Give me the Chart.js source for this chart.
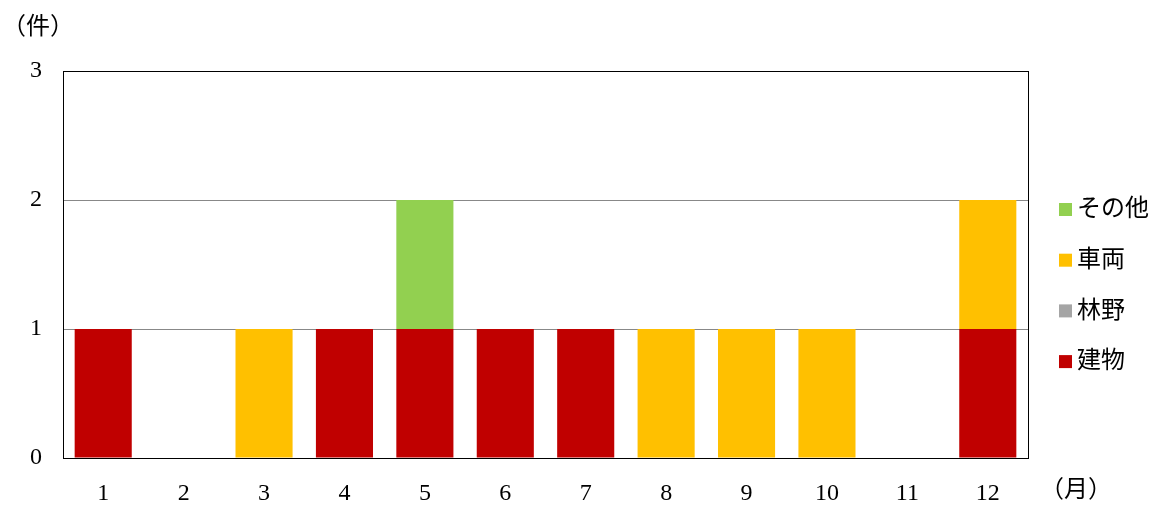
<!DOCTYPE html>
<html>
<head>
<meta charset="utf-8">
<script src="https://cdn.jsdelivr.net/npm/chart.js@4"></script>
<style>
  body { margin: 0; background: #fff; }
  #wrap { width: 1158px; height: 505px; position: relative; }
</style>
</head>
<body>
<div id="wrap"><canvas id="fireChart"></canvas></div>
<script>
const months = ['1', '2', '3', '4', '5', '6', '7', '8', '9', '10', '11', '12'];
const buildings = [1, 0, 0, 1, 1, 1, 1, 0, 0, 0, 0, 1];
const forest = [0, 0, 0, 0, 0, 0, 0, 0, 0, 0, 0, 0];
const vehicles = [0, 0, 1, 0, 0, 0, 0, 1, 1, 1, 0, 1];
const others = [0, 0, 0, 0, 1, 0, 0, 0, 0, 0, 0, 0];
const yTicks = [0, 1, 2, 3];

const FONT = '"Liberation Serif", "Noto Sans CJK JP", serif';

// Border, axis units and legend
const extras = {
    id: 'extras',
    afterDraw(chart) {
        const ctx = chart.ctx;
        const a = chart.chartArea;
        ctx.save();
        ctx.strokeStyle = '#000';
        ctx.lineWidth = 1;
        ctx.strokeRect(Math.round(a.left) + 0.5, Math.round(a.top) + 0.5,
            Math.round(a.right - a.left), Math.round(a.bottom - a.top));

        ctx.fillStyle = '#000';
        ctx.font = '24px ' + FONT;
        ctx.textBaseline = 'middle';
        ctx.textAlign = 'left';
        ctx.fillText('（件）', 2, 28);
        ctx.fillText('（月）', 1040, 491);

        // legend, reversed order
        const ds = chart.data.datasets.slice().reverse();
        ds.forEach((d, i) => {
            const y = 209 + i * 50.7;
            ctx.fillStyle = d.backgroundColor;
            ctx.fillRect(1059, y - 6, 13, 13);
            ctx.fillStyle = '#000';
            ctx.font = '24px ' + FONT;
            ctx.fillText(d.label, 1077, y + 1);
        });
        ctx.restore();
    }
};

new Chart(document.getElementById('fireChart'), {
    type: 'bar',
    data: {
        labels: months,
        datasets: [
            { label: '建物', data: buildings, backgroundColor: '#C00000' },
            { label: '林野', data: forest, backgroundColor: '#A5A5A5' },
            { label: '車両', data: vehicles, backgroundColor: '#FFC000' },
            { label: 'その他', data: others, backgroundColor: '#92D050' }
        ]
    },
    options: {
        responsive: true,
        maintainAspectRatio: false,
        animation: false,
        layout: { padding: { top: 71, right: 130, left: 0, bottom: 0 } },
        datasets: { bar: { categoryPercentage: 1, barPercentage: 0.71 } },
        plugins: { legend: { display: false }, tooltip: { enabled: false } },
        scales: {
            x: {
                stacked: true,
                grid: { display: false, drawTicks: false },
                border: { color: '#000', width: 1 },
                ticks: { color: '#000', font: { family: FONT, size: 24 }, padding: 21, maxRotation: 0 },
                afterFit(s) { s.height = 47; }
            },
            y: {
                stacked: true,
                min: 0,
                max: 3,
                afterBuildTicks(s) { s.ticks = yTicks.map(v => ({ value: v })); },
                grid: {
                    drawTicks: false,
                    color: c => (c.tick.value === 1 || c.tick.value === 2) ? '#888' : 'rgba(0,0,0,0)',
                    lineWidth: 1
                },
                border: { color: '#000', width: 1 },
                ticks: { color: '#000', font: { family: FONT, size: 24 }, padding: 21 },
                afterFit(s) { s.width = 63; }
            }
        }
    },
    plugins: [extras]
});
</script>
</body>
</html>
